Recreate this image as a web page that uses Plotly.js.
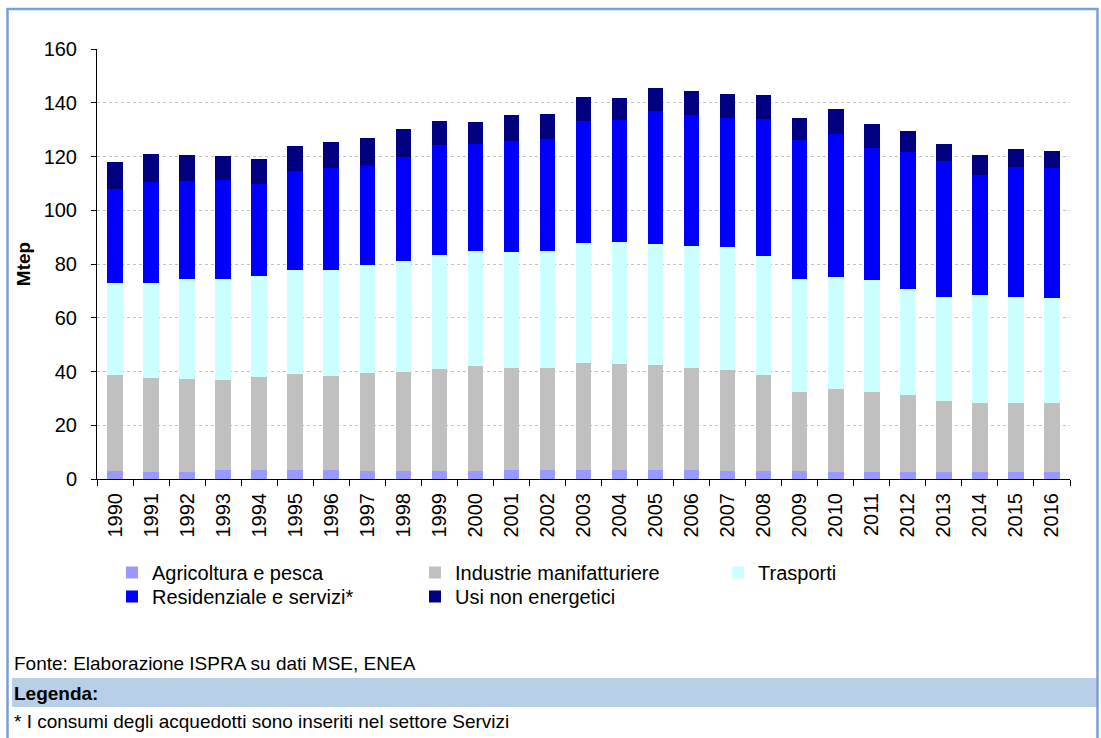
<!DOCTYPE html>
<html>
<head>
<meta charset="utf-8">
<script src="https://cdn.plot.ly/plotly-3.0.1.min.js"></script>
<style>
  html, body { margin: 0; padding: 0; background: #ffffff; }
  #chart { width: 1101px; height: 738px; }
</style>
</head>
<body>
<div id="chart"></div>
<script>
// ---- Data (Mtep) ----
const years = ["1990","1991","1992","1993","1994","1995","1996","1997","1998","1999",
               "2000","2001","2002","2003","2004","2005","2006","2007","2008","2009",
               "2010","2011","2012","2013","2014","2015","2016"];

const agricoltura = [3.0, 2.7, 2.7, 3.2, 3.2, 3.2, 3.2, 3.0, 3.0, 3.0,
                     3.0, 3.2, 3.2, 3.2, 3.2, 3.2, 3.2, 3.0, 3.0, 3.0,
                     2.7, 2.7, 2.7, 2.7, 2.7, 2.7, 2.7];

const industrie = [35.6, 35.0, 34.6, 33.8, 34.8, 36.0, 35.2, 36.6, 36.9, 37.9,
                   39.2, 38.2, 38.1, 40.1, 39.6, 39.2, 38.2, 37.4, 35.8, 29.4,
                   30.8, 29.5, 28.6, 26.2, 25.7, 25.5, 25.7];

const trasporti = [34.3, 35.2, 37.0, 37.5, 37.7, 38.6, 39.5, 39.9, 41.3, 42.4,
                   42.5, 42.9, 43.7, 44.4, 45.3, 44.9, 45.4, 45.9, 44.1, 42.0,
                   41.8, 42.0, 39.4, 38.7, 39.9, 39.5, 38.9];

const residenziale = [34.9, 37.5, 36.5, 36.8, 33.9, 36.8, 37.7, 37.0, 38.7, 40.8,
                      39.8, 41.6, 41.4, 45.4, 45.4, 49.5, 48.6, 48.2, 51.1, 51.6,
                      52.9, 48.8, 50.8, 50.6, 44.9, 48.5, 48.4];

const usiNonEnergetici = [10.0, 10.4, 9.8, 9.0, 9.3, 9.4, 9.8, 10.3, 10.2, 9.2,
                          8.5, 9.4, 9.3, 8.9, 8.3, 8.8, 8.9, 8.6, 8.9, 8.3,
                          9.6, 9.2, 8.0, 6.3, 7.2, 6.6, 6.3];

const seriesNames = ["Agricoltura e pesca", "Industrie manifatturiere", "Trasporti",
                     "Residenziale e servizi*", "Usi non energetici"];
const seriesValues = [agricoltura, industrie, trasporti, residenziale, usiNonEnergetici];
const seriesColors = ["#9999ff", "#c0c0c0", "#ccffff", "#0000ff", "#000080"];
const seriesLegendRow = ["legend", "legend", "legend", "legend2", "legend2"];

const yTitle = "Mtep";
const sourceText = "Fonte: Elaborazione ISPRA su dati MSE, ENEA";
const legendaTitle = "Legenda:";
const noteText = "* I consumi degli acquedotti sono inseriti nel settore Servizi";

// ---- Layout helpers (pixel -> paper) ----
const W = 1101, H = 738;
const L = 97, R = 31, T = 49, B = 259;
const pw = W - L - R, ph = H - T - B;
const px = x => (x - L) / pw;
const py = y => (H - B - y) / ph;

const FONT = '"Liberation Sans", Arial, sans-serif';

const traces = seriesNames.map((name, i) => ({
  type: 'bar',
  name: name,
  x: years,
  y: seriesValues[i],
  legend: seriesLegendRow[i],
  marker: { color: seriesColors[i], line: { width: 0 } },
  hoverinfo: 'x+y+name'
}));

const legendBase = {
  orientation: 'h',
  traceorder: 'normal',
  xanchor: 'left', yanchor: 'top',
  entrywidth: 258, entrywidthmode: 'pixels',
  font: { family: FONT, size: 20, color: '#000000' },
  bgcolor: 'rgba(0,0,0,0)',
  borderwidth: 0,
  itemclick: false, itemdoubleclick: false
};

const layout = {
  width: W, height: H,
  margin: { l: L, r: R, t: T, b: B, pad: 0 },
  paper_bgcolor: '#ffffff',
  plot_bgcolor: '#ffffff',
  barmode: 'stack',
  bargap: 0.57,
  font: { family: FONT, color: '#000000', size: 20 },
  showlegend: true,
  legend: Object.assign({}, legendBase, { x: px(112), y: py(553) }),
  legend2: Object.assign({}, legendBase, { x: px(112), y: py(577) }),
  xaxis: {
    type: 'category',
    showline: true, linecolor: '#000000', linewidth: 1,
    ticks: 'outside', tickson: 'boundaries', ticklen: 6, tickcolor: '#000000', tickwidth: 1,
    tickangle: -90,
    ticklabelstandoff: 5,
    tickfont: { family: FONT, size: 20, color: '#000000' },
    showgrid: false, zeroline: false,
    fixedrange: true
  },
  yaxis: {
    range: [0, 160], dtick: 20, tick0: 0,
    showline: true, linecolor: '#000000', linewidth: 1,
    ticks: 'outside', ticklen: 5, tickcolor: '#000000', tickwidth: 1,
    ticklabelstandoff: 10,
    tickfont: { family: FONT, size: 20, color: '#000000' },
    showgrid: true, gridcolor: '#c4c4c4', griddash: 'dot', gridwidth: 1,
    zeroline: false,
    title: { text: yTitle, font: { family: FONT, size: 19, color: '#000000', weight: 'bold' }, standoff: 7 },
    fixedrange: true
  },
  shapes: [
    { type: 'rect', xref: 'paper', yref: 'paper', layer: 'below',
      x0: px(12), x1: px(1097), y0: py(707), y1: py(678),
      fillcolor: '#b8cfe8', line: { width: 0 } },
    { type: 'rect', xref: 'paper', yref: 'paper', layer: 'above',
      x0: px(7.5), x1: px(1097.5), y0: py(760), y1: py(9),
      fillcolor: 'rgba(0,0,0,0)', line: { color: '#7b9fd6', width: 2.5 } }
  ],
  annotations: [
    { xref: 'paper', yref: 'paper', x: px(12), y: py(663), xanchor: 'left', yanchor: 'middle',
      text: sourceText, showarrow: false, font: { family: FONT, size: 19, color: '#000000' } },
    { xref: 'paper', yref: 'paper', x: px(12), y: py(693), xanchor: 'left', yanchor: 'middle',
      text: '<b>' + legendaTitle + '</b>', showarrow: false, font: { family: FONT, size: 19, color: '#000000' } },
    { xref: 'paper', yref: 'paper', x: px(12), y: py(721), xanchor: 'left', yanchor: 'middle',
      text: noteText, showarrow: false, font: { family: FONT, size: 19, color: '#000000' } }
  ]
};

Plotly.newPlot('chart', traces, layout, { displayModeBar: false, staticPlot: true });
</script>
</body>
</html>
